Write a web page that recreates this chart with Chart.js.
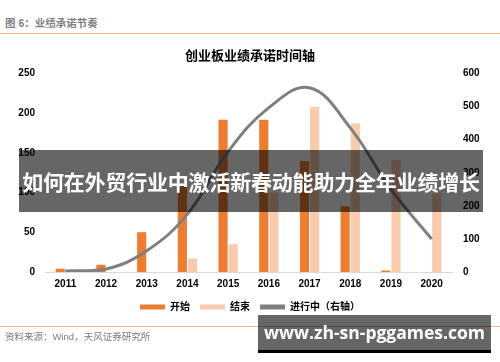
<!DOCTYPE html>
<html>
<head>
<meta charset="utf-8">
<script src="https://cdn.jsdelivr.net/npm/chart.js@4.4.1/dist/chart.umd.min.js"></script>
<style>
  html, body { margin: 0; padding: 0; background: #fff; }
  #wrap { position: relative; width: 500px; height: 362px; overflow: hidden; background: #fff;
          font-family: "Liberation Sans", "Noto Sans CJK SC", sans-serif; }
  #chart { position: absolute; left: 0; top: 0; }
  .abs { position: absolute; white-space: nowrap; }
  #hdr { left: 5px; top: 15px; font-size: 10.5px; font-weight: bold; color: #7f7f7f; line-height: 16px; }
  .rule { position: absolute; left: 0; width: 500px; height: 1px; background: #f4b183; }
  #src { left: 5px; top: 330px; font-size: 9.5px; color: #7a7a7a; line-height: 14px; }
  #banner { left: 19px; top: 150px; width: 464px; height: 62px; background: rgba(0,0,0,0.6);
            color: #fff; font-weight: bold; font-size: 21px; line-height: 62px; text-align: center;
            font-family: "Noto Sans CJK SC", sans-serif; letter-spacing: -0.2px; }
  #wm { left: 258px; top: 315px; width: 233px; height: 35px; background: rgba(0,0,0,0.6);
        border-bottom: 3px solid #000; color: #fff; font-weight: bold; font-size: 17.5px;
        line-height: 35px; text-align: center; font-family: "Open Sans", "DejaVu Sans", sans-serif; }
</style>
</head>
<body>
<div id="wrap">
  <div id="hdr" class="abs">图 6：业绩承诺节奏</div>
  <div class="rule" style="top:33px"></div>
  <canvas id="chart" width="500" height="362"></canvas>
  <div class="rule" style="top:326px"></div>
  <div id="src" class="abs">资料来源：Wind，天风证券研究所</div>
  <div id="banner" class="abs">如何在外贸行业中激活新春动能助力全年业绩增长</div>
  <div id="wm" class="abs">www.zh-sn-pggames.com</div>
</div>
<script>
const years = ['2011', '2012', '2013', '2014', '2015', '2016', '2017', '2018', '2019', '2020'];
const startValues = [4, 9, 50, 108, 192, 192, 140, 83, 2, 0];
const endValues = [0, 0, 0, 17, 35, 100, 208, 187, 141, 99];
const ongoingValues = [3, 9, 64, 175, 364, 497, 557, 436, 250, 100];
const leftTicks = [0, 50, 100, 150, 200, 250];
const rightTicks = [0, 100, 200, 300, 400, 500, 600];

const FONT = '"Liberation Sans", "Noto Sans CJK SC", sans-serif';
const tickFont = { family: FONT, size: 10, weight: 'bold' };

new Chart(document.getElementById('chart'), {
  type: 'bar',
  data: {
    labels: years,
    datasets: [
      { label: '开始', data: startValues, backgroundColor: '#ED7D31', borderWidth: 0,
        yAxisID: 'y', order: 1, categoryPercentage: 0.5, barPercentage: 0.9 },
      { label: '结束', data: endValues, backgroundColor: '#F8CBAD', borderWidth: 0,
        yAxisID: 'y', order: 1, categoryPercentage: 0.5, barPercentage: 0.9 },
      { type: 'line', label: '进行中（右轴）', data: ongoingValues, borderColor: '#7F7F7F',
        backgroundColor: '#7F7F7F', borderWidth: 3, pointRadius: 0, tension: 0.4,
        fill: false, yAxisID: 'y1', order: 0 }
    ]
  },
  options: {
    responsive: false,
    animation: false,
    devicePixelRatio: 1,
    layout: { padding: { top: 40, left: 0, right: 0, bottom: 40 } },
    plugins: {
      title: { display: true, text: '创业板业绩承诺时间轴', color: '#000',
               font: { family: FONT, size: 13, weight: 'bold' }, padding: { top: 9, bottom: 9 } },
      legend: { position: 'bottom',
        labels: { boxWidth: 25, boxHeight: 5, padding: 10, color: '#000',
                  font: { family: FONT, size: 10, weight: 'bold' },
                  sort: (a, b) => a.datasetIndex - b.datasetIndex,
                  generateLabels: chart => {
                    const items = Chart.defaults.plugins.legend.labels.generateLabels(chart);
                    items.forEach(it => { it.lineWidth = 0; });
                    return items;
                  } } },
      tooltip: { enabled: false }
    },
    scales: {
      x: {
        grid: { display: false, drawTicks: false },
        border: { display: true, color: '#d9d9d9', width: 1 },
        ticks: { font: tickFont, color: '#000', padding: 6 },
        afterFit: s => { s.height -= 4; }
      },
      y: {
        position: 'left', min: 0, max: 250,
        afterBuildTicks: s => { s.ticks = leftTicks.map(v => ({ value: v })); },
        afterFit: s => { s.width = 45; },
        grid: { display: false, drawTicks: false },
        border: { display: false },
        ticks: { font: tickFont, color: '#000', padding: 10 }
      },
      y1: {
        position: 'right', min: 0, max: 600,
        afterBuildTicks: s => { s.ticks = rightTicks.map(v => ({ value: v })); },
        afterFit: s => { s.width = 48; },
        grid: { display: false, drawTicks: false },
        border: { display: false },
        ticks: { font: tickFont, color: '#000', padding: 11 }
      }
    }
  }
});
</script>
</body>
</html>
